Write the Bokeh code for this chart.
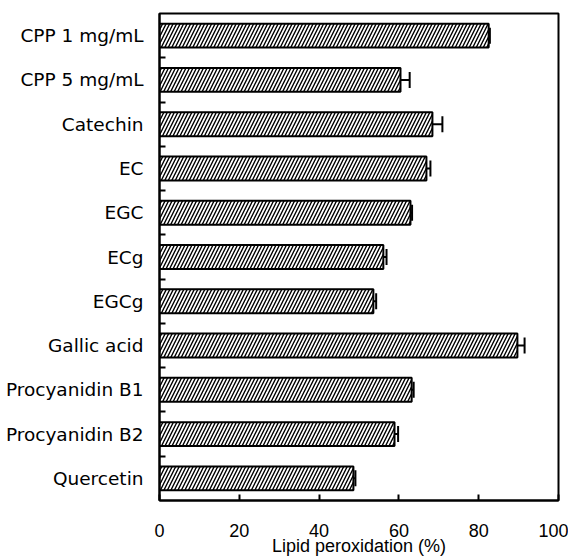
from bokeh.plotting import figure
from bokeh.models import Range1d, FixedTicker, ColumnDataSource, Whisker, TeeHead
from bokeh.embed import file_html
from bokeh.resources import INLINE

categories = ["CPP 1 mg/mL", "CPP 5 mg/mL", "Catechin", "EC", "EGC", "ECg", "EGCg",
              "Gallic acid", "Procyanidin B1", "Procyanidin B2", "Quercetin"]
values = [82.5, 60.4, 68.4, 66.9, 62.9, 56.1, 53.6, 89.7, 63.2, 58.9, 48.6]
errors = [0.3, 2.3, 2.5, 1.0, 0.4, 0.8, 0.7, 1.8, 0.5, 0.9, 0.5]
x_ticks = [0, 20, 40, 60, 80, 100]

n = len(categories)
ypos = [i + 0.5 for i in range(n)]
bounds = [float(i) for i in range(1, n)]

src = ColumnDataSource(dict(y=ypos, v=values, lo=values,
                            hi=[v + e for v, e in zip(values, errors)]))

FONT = "Liberation Sans"

p = figure(width=568, height=558, x_range=Range1d(0, 100), y_range=Range1d(n, 0),
           output_backend="svg", toolbar_location=None,
           min_border_left=159, min_border_right=10, min_border_top=13, min_border_bottom=55)
p.background_fill_color = "white"
p.border_fill_color = "white"
p.outline_line_color = "black"
p.outline_line_width = 2
p.xgrid.visible = False
p.ygrid.visible = False

p.hbar(y="y", right="v", left=0, height=0.54, source=src,
       fill_color="white", line_color="black", line_width=2,
       hatch_pattern="/", hatch_color="black", hatch_scale=7, hatch_weight=1.4)

w = Whisker(base="y", lower="lo", upper="hi", dimension="width", source=src,
            line_color="black", line_width=2,
            lower_head=None, upper_head=TeeHead(size=16, line_color="black", line_width=2))
p.add_layout(w)

xa = p.xaxis[0]
xa.ticker = FixedTicker(ticks=x_ticks, minor_ticks=[])
xa.axis_line_color = "black"
xa.axis_line_width = 2
xa.major_tick_in = 6
xa.major_tick_out = 0
xa.major_tick_line_width = 2
xa.minor_tick_line_color = None
xa.major_label_standoff = 23
xa.major_label_text_font = FONT
xa.major_label_text_font_size = "18px"
xa.major_label_text_color = "black"
xa.axis_label = "Lipid peroxidation (%)"
xa.axis_label_text_font = FONT
xa.axis_label_text_font_size = "18px"
xa.axis_label_text_font_style = "normal"
xa.axis_label_standoff = -4
xa.axis_label_text_color = "black"

ya = p.yaxis[0]
ya.ticker = FixedTicker(ticks=ypos, minor_ticks=bounds)
ya.major_label_overrides = {y: c for y, c in zip(ypos, categories)}
ya.axis_line_color = "black"
ya.axis_line_width = 2
ya.major_tick_line_color = None
ya.major_tick_in = 0
ya.major_tick_out = 0
ya.minor_tick_in = 6
ya.minor_tick_out = 0
ya.minor_tick_line_width = 2
ya.minor_tick_line_color = "black"
ya.major_label_standoff = 16
ya.major_label_text_font = "DejaVu Sans"
ya.major_label_text_font_size = "18.5px"
ya.major_label_text_color = "black"

open("out.html", "w").write(file_html(p, INLINE))
